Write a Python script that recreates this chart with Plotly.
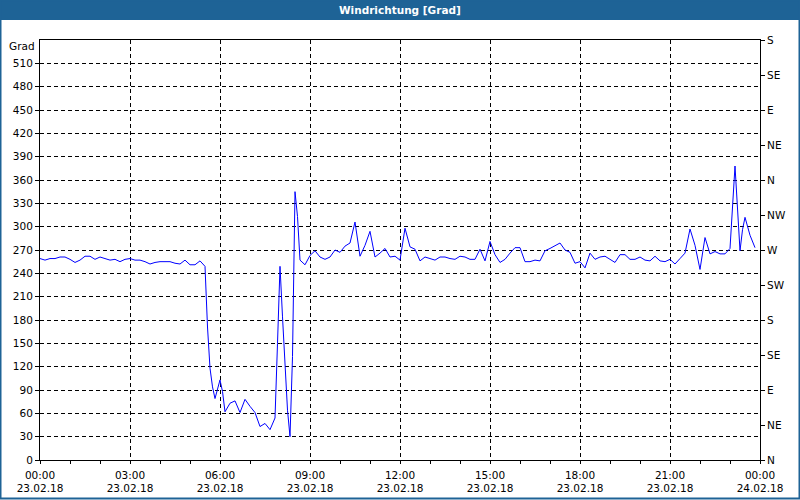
import pandas as pd
import plotly.graph_objects as go

# minutes after 23.02.18 00:00
minutes = [0, 10, 20, 30, 40, 50, 60, 70, 80, 90, 100, 110, 120, 130, 140, 150, 160, 170,
           180, 190, 200, 210, 220, 230, 240, 250, 260, 270, 280, 290, 300, 310, 320, 330,
           335, 340, 345, 350, 355, 360, 365, 370, 380, 390, 400, 410, 420, 430, 440, 450,
           460, 470, 475, 480, 485, 490, 495, 500, 505, 510, 515, 520, 530, 540, 550, 560,
           570, 580, 590, 600, 610, 620, 630, 640, 650, 660, 670, 680, 690, 700, 710, 720,
           730, 740, 750, 760, 770, 780, 790, 800, 810, 820, 830, 840, 850, 860, 870, 880,
           890, 900, 910, 920, 930, 940, 950, 960, 970, 980, 990, 1000, 1010, 1020, 1030,
           1040, 1050, 1060, 1070, 1080, 1090, 1100, 1110, 1120, 1130, 1140, 1150, 1160,
           1170, 1180, 1190, 1200, 1210, 1220, 1230, 1240, 1250, 1260, 1270, 1280, 1290,
           1300, 1310, 1320, 1330, 1340, 1350, 1360, 1370, 1380, 1385, 1390, 1400, 1405,
           1410, 1420, 1430]
direction = [259, 257, 259, 259, 261, 261, 258, 254, 257, 262, 262, 258, 261, 259, 257, 258,
             255, 258, 259, 257, 257, 255, 252, 254, 255, 255, 255, 253, 252, 257, 251, 251,
             256, 249, 171, 118, 94, 79, 92, 103, 88, 62, 73, 76, 61, 78, 69, 61, 43, 47, 39,
             54, 150, 249, 184, 116, 64, 30, 133, 345, 313, 257, 251, 263, 269, 261, 258, 261,
             270, 267, 275, 279, 306, 262, 276, 294, 261, 266, 272, 261, 262, 257, 298, 274,
             271, 256, 261, 259, 257, 261, 261, 259, 258, 262, 261, 258, 258, 271, 256, 281,
             264, 254, 258, 266, 273, 273, 255, 255, 257, 256, 269, 272, 276, 279, 270, 267,
             253, 255, 247, 266, 258, 261, 262, 258, 254, 264, 264, 258, 258, 261, 257, 256,
             262, 256, 255, 258, 252, 259, 266, 297, 276, 245, 286, 265, 268, 265, 265, 272,
             326, 378, 269, 296, 312, 289, 273]

left_ticks = list(range(0, 511, 30))
left_text = [str(v) for v in left_ticks]
unit_label = "Grad"
right_ticks = list(range(0, 541, 45))
right_text = ["N", "NE", "E", "SE", "S", "SW", "W", "NW", "N", "NE", "E", "SE", "S"]

t0 = pd.Timestamp("2018-02-23 00:00")
times = [t0 + pd.Timedelta(minutes=m) for m in minutes]

FONT = "DejaVu Sans"
fig = go.Figure()
fig.add_trace(go.Scatter(x=times, y=direction, mode="lines",
                         line=dict(color="#0000FF", width=1), hoverinfo="skip",
                         showlegend=False))
fig.add_trace(go.Scatter(x=[times[0]], y=[0], yaxis="y2", mode="markers",
                         marker=dict(opacity=0), hoverinfo="skip", showlegend=False))

W, H = 800, 500
L, R, T, B = 40, 40, 40, 40
pw, ph = W - L - R, H - T - B


def px(x):
    return (x - L) / pw


def py(y):
    return (H - B - y) / ph


fig.update_layout(
    width=W, height=H,
    margin=dict(l=L, r=R, t=T, b=B, pad=0, autoexpand=False),
    paper_bgcolor="white", plot_bgcolor="white",
    font=dict(family=FONT, size=10, color="black"),
    xaxis=dict(
        type="date", automargin=False,
        range=[t0, t0 + pd.Timedelta(hours=24)],
        tickmode="linear", tick0=t0, dtick=3 * 3600 * 1000,
        tickformat="%H:%M<br>%d.%m.%y",
        ticks="outside", ticklen=3, tickcolor="black", ticklabelstandoff=2,
        minor=dict(dtick=3600 * 1000, ticks="outside", ticklen=3, tickcolor="black",
                   showgrid=False),
        showgrid=True, gridcolor="black", gridwidth=1, griddash="4px,3px",
        showline=True, linecolor="black", linewidth=1, mirror=True,
        zeroline=False, fixedrange=True,
        tickfont=dict(family=FONT, size=10.5),
    ),
    yaxis=dict(
        automargin=False,
        range=[0, 540], tickmode="array", tickvals=left_ticks, ticktext=left_text,
        ticks="outside", ticklen=4, tickcolor="black",
        showgrid=True, gridcolor="black", gridwidth=1, griddash="4px,3px",
        showline=True, linecolor="black", linewidth=1,
        zeroline=False, fixedrange=True,
        tickfont=dict(family=FONT, size=10.5),
    ),
    yaxis2=dict(
        overlaying="y", side="right", automargin=False,
        range=[0, 540], tickmode="array", tickvals=right_ticks, ticktext=right_text,
        ticks="outside", ticklen=4, tickcolor="black",
        showgrid=False, showline=True, linecolor="black", linewidth=1,
        zeroline=False, fixedrange=True,
        tickfont=dict(family=FONT, size=10.5),
    ),
    shapes=[
        dict(type="rect", xref="paper", yref="paper", layer="below",
             x0=px(0), x1=px(W), y0=py(20), y1=py(0),
             fillcolor="#1E6396", line=dict(width=0)),
        dict(type="rect", xref="paper", yref="paper",
             x0=px(0.5), x1=px(W - 0.5), y0=py(H - 1.5), y1=py(0.5),
             fillcolor="rgba(0,0,0,0)", line=dict(color="#1E6396", width=2)),
    ],
    annotations=[
        dict(text="<b>Windrichtung [Grad]</b>", xref="paper", yref="paper",
             x=0.5, y=py(10), xanchor="center", yanchor="middle", showarrow=False,
             font=dict(family=FONT, size=10.5, color="white")),
        dict(text=unit_label, xref="paper", yref="paper",
             x=px(37), y=py(46), xanchor="right", yanchor="middle", showarrow=False,
             font=dict(family=FONT, size=10.5, color="black")),
    ],
    hovermode=False,
)

fig.write_html("out.html", config={"displayModeBar": False},
               post_script="document.body.style.margin='0';document.body.style.overflow='hidden';")
